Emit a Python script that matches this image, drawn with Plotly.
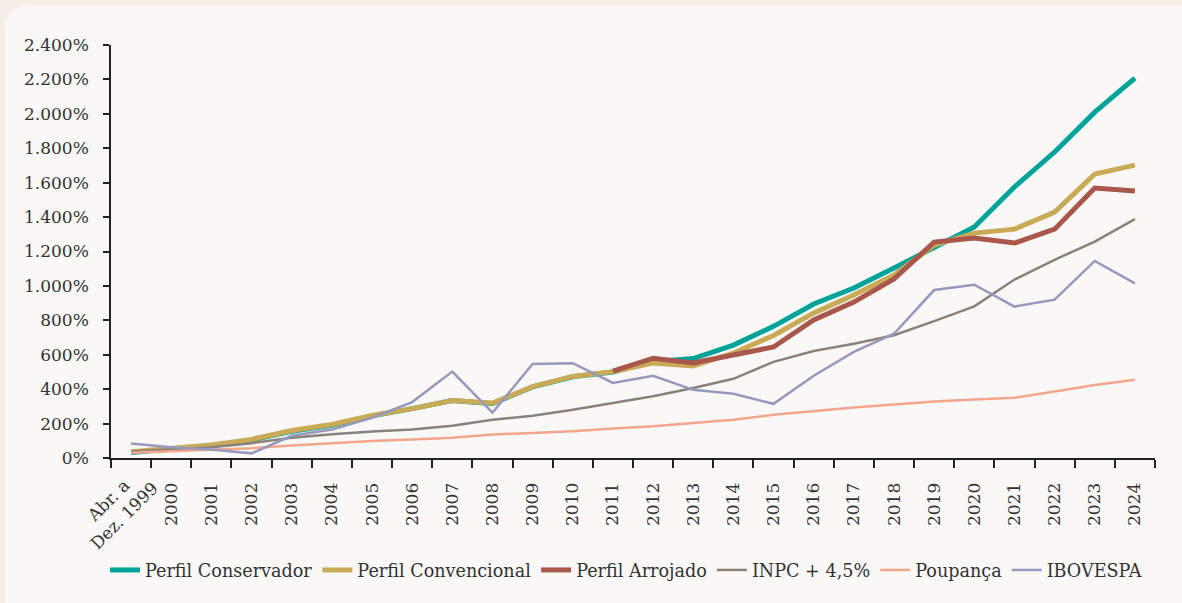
import plotly.graph_objects as go

categories = ["Abr. a<br>Dez. 1999"] + [str(y) for y in range(2000, 2025)]
tick_labels = [""] + [str(y) for y in range(2000, 2025)]
y_ticks = list(range(0, 2401, 200))
y_tick_labels = ["0%", "200%", "400%", "600%", "800%", "1.000%", "1.200%", "1.400%",
                 "1.600%", "1.800%", "2.000%", "2.200%", "2.400%"]

conservador = [32, 52, 72, 105, 155, 190, 245, 287, 334, 316, 413, 472, 500,
               560, 578, 656, 765, 895, 988, 1104, 1220, 1342, 1575, 1778, 2010, 2208]
convencional = [36, 55, 75, 108, 160, 195, 247, 287, 334, 319, 415, 474, 502,
                552, 535, 610, 712, 842, 947, 1063, 1237, 1307, 1330, 1429, 1650, 1702]
arrojado = [None, None, None, None, None, None, None, None, None, None, None, None, 505,
            580, 552, 598, 645, 802, 906, 1040, 1255, 1278, 1249, 1330, 1569, 1551]
inpc = [38, 50, 62, 86, 118, 138, 154, 165, 188, 222, 245, 280, 319,
        359, 407, 460, 559, 622, 664, 713, 795, 881, 1037, 1152, 1258, 1388]
poupanca = [31, 40, 48, 57, 73, 88, 99, 108, 117, 136, 146, 156, 171,
            184, 203, 222, 251, 273, 294, 311, 328, 340, 350, 386, 424, 455]
ibovespa = [84, 62, 50, 27, 129, 165, 234, 325, 502, 263, 546, 551, 436,
            478, 396, 373, 315, 478, 617, 722, 976, 1007, 880, 920, 1145, 1015]

series = [
    ("Perfil Conservador", conservador, "#00a39a", 5),
    ("Perfil Convencional", convencional, "#c9ab57", 5),
    ("Perfil Arrojado", arrojado, "#a9564b", 5),
    ("INPC + 4,5%", inpc, "#8b817b", 2.5),
    ("Poupança", poupanca, "#f3a68b", 2.5),
    ("IBOVESPA", ibovespa, "#9698bc", 2.5),
]

fig = go.Figure()
for name, vals, color, w in series:
    fig.add_trace(go.Scatter(x=categories, y=vals, name=name, mode="lines",
                             line=dict(color=color, width=w),
                             connectgaps=False))

W, H = 1182, 603
L, R, T, B = 111, 27, 45, 145
pw, ph = W - L - R, H - T - B


def px_x(p):
    return (p - L) / pw


def px_y(p):
    return (H - B - p) / ph


path = (f"M {px_x(5)},{px_y(610)} L {px_x(5)},{px_y(32)} "
        f"Q {px_x(5)},{px_y(5)} {px_x(32)},{px_y(5)} "
        f"L {px_x(1190)},{px_y(5)} L {px_x(1190)},{px_y(610)} Z")

fig.add_shape(type="path", path=path, xref="paper", yref="paper",
              fillcolor="#f9f8f6", line=dict(width=0), layer="below")

fig.add_annotation(x=categories[0], y=px_y(508), xref="x", yref="paper",
                   text="Abr. a<br>Dez. 1999", textangle=-45, showarrow=False,
                   xshift=-15, xanchor="center", yanchor="middle",
                   font=dict(family="DejaVu Serif", size=17, color="#333333"))

pad = "\u00a0\u00a0\u00a0"
fig.update_layout(
    width=W, height=H,
    margin=dict(l=L, r=R, t=T, b=B, autoexpand=False),
    paper_bgcolor="#f5eee7",
    plot_bgcolor="#f9f8f6",
    font=dict(family="DejaVu Serif", size=16, color="#333333"),
    showlegend=True,
    legend=dict(orientation="h", x=px_x(626), xanchor="center", y=px_y(570), yanchor="middle",
                font=dict(size=17.6), itemwidth=30, bgcolor="rgba(0,0,0,0)"),
    xaxis=dict(type="category", tickmode="array", tickvals=categories,
               ticktext=[t + pad if t else t for t in tick_labels],
               tickangle=-90, tickson="boundaries", ticks="outside", ticklen=8,
               tickwidth=1.5, tickcolor="#222222", showline=True, linecolor="#222222",
               linewidth=1.5, showgrid=False, zeroline=False, range=[-0.5, 25.5],
               tickfont=dict(size=17)),
    yaxis=dict(range=[0, 2400], tickmode="array", tickvals=y_ticks, ticktext=y_tick_labels,
               ticks="outside", ticklen=6, tickwidth=1.5,
               tickcolor="#222222", showline=True, linecolor="#222222", linewidth=1.5,
               showgrid=False, zeroline=False, ticklabelstandoff=11,
               tickfont=dict(size=17)),
)

fig.write_html("out.html", config={"displayModeBar": False},
               post_script="document.body.style.margin='0';document.body.style.overflow='hidden';")
